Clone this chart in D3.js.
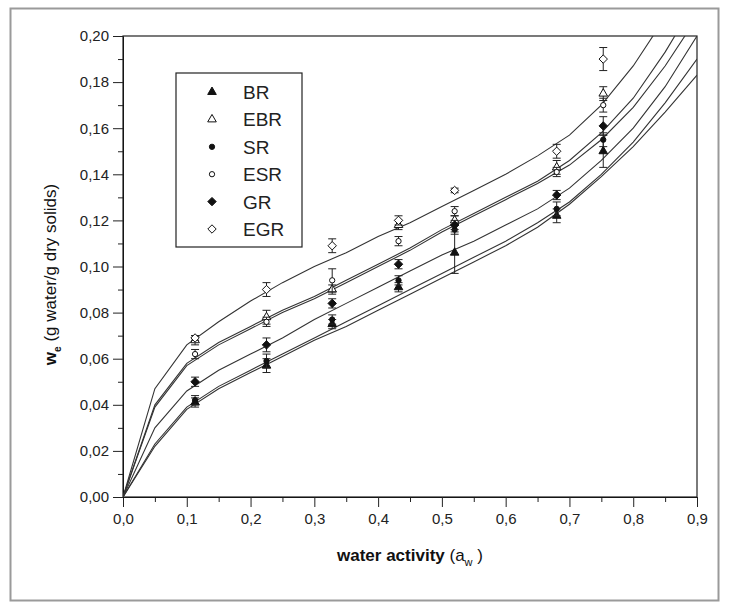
<!DOCTYPE html>
<html>
<head>
<meta charset="utf-8">
<script src="https://cdn.jsdelivr.net/npm/d3@7"></script>
<style>
  body { margin: 0; background: #fff; }
  svg { display: block; font-family: "Liberation Sans", Arial, sans-serif; }
</style>
</head>
<body>
<div id="chart"></div>
<script>
// sorption isotherms - measured points with error bars + fitted curves

// water activities of the salt solutions
var aw = [0.113, 0.225, 0.328, 0.432, 0.52, 0.68, 0.753];

// measured moisture (g water / g dry solids) and error
var br = [0.041, 0.057, 0.075, 0.091, 0.106, 0.122, 0.150];
var brErr = [0.002, 0.003, 0.002, 0.002, 0.009, 0.003, 0.007];
var ebr = [0.068, 0.078, 0.090, 0.118, 0.120, 0.143, 0.175];
var ebrErr = [0.002, 0.003, 0.002, 0.002, 0.002, 0.003, 0.003];
var sr = [0.042, 0.059, 0.077, 0.094, 0.116, 0.125, 0.155];
var srErr = [0.002, 0.003, 0.002, 0.002, 0.002, 0.003, 0.003];
var esr = [0.062, 0.076, 0.094, 0.111, 0.124, 0.141, 0.170];
var esrErr = [0.002, 0.002, 0.005, 0.002, 0.002, 0.002, 0.003];
var gr = [0.050, 0.066, 0.084, 0.101, 0.118, 0.131, 0.161];
var grErr = [0.002, 0.003, 0.002, 0.002, 0.002, 0.002, 0.004];
var egr = [0.069, 0.090, 0.109, 0.120, 0.133, 0.150, 0.190];
var egrErr = [0.001, 0.003, 0.003, 0.002, 0.001, 0.003, 0.005];

// fitted curves
var fitAw = [0, 0.05, 0.1, 0.15, 0.2, 0.25, 0.3, 0.35, 0.4, 0.45, 0.5, 0.55, 0.6, 0.65, 0.7, 0.75, 0.8, 0.85, 0.9];
var fitEGR = [0, 0.047, 0.066, 0.076, 0.085, 0.093, 0.100, 0.106, 0.113, 0.119, 0.126, 0.133, 0.140, 0.148, 0.157, 0.170, 0.187, 0.208, 0.232];
var fitEBR = [0, 0.040, 0.058, 0.067, 0.074, 0.081, 0.087, 0.094, 0.101, 0.108, 0.116, 0.123, 0.130, 0.137, 0.146, 0.158, 0.173, 0.193, 0.216];
var fitESR = [0, 0.039, 0.057, 0.066, 0.073, 0.080, 0.086, 0.093, 0.100, 0.107, 0.115, 0.122, 0.129, 0.136, 0.144, 0.155, 0.169, 0.187, 0.208];
var fitGR = [0, 0.030, 0.046, 0.055, 0.062, 0.069, 0.077, 0.084, 0.091, 0.098, 0.105, 0.111, 0.118, 0.125, 0.134, 0.146, 0.160, 0.178, 0.200];
var fitSR = [0, 0.023, 0.039, 0.048, 0.055, 0.062, 0.069, 0.076, 0.083, 0.090, 0.097, 0.104, 0.111, 0.119, 0.128, 0.140, 0.154, 0.171, 0.190];
var fitBR = [0, 0.022, 0.038, 0.047, 0.054, 0.061, 0.068, 0.074, 0.081, 0.088, 0.095, 0.102, 0.109, 0.117, 0.127, 0.139, 0.152, 0.167, 0.183];

var names = ["BR", "EBR", "SR", "ESR", "GR", "EGR"];
var values = [br, ebr, sr, esr, gr, egr];
var errs = [brErr, ebrErr, srErr, esrErr, grErr, egrErr];
var fits = [fitBR, fitEBR, fitSR, fitESR, fitGR, fitEGR];
var shapes = ["triangle", "triangle", "circle", "circle", "diamond", "diamond"];
var filled = [true, false, true, false, true, false];

var xTicks = [0, 0.1, 0.2, 0.3, 0.4, 0.5, 0.6, 0.7, 0.8, 0.9];
var yTicks = [0, 0.02, 0.04, 0.06, 0.08, 0.10, 0.12, 0.14, 0.16, 0.18, 0.20];

var W = 729, H = 603;
var margin = {top: 36, right: 32, bottom: 106, left: 123};
var width = W - margin.left - margin.right,
    height = H - margin.top - margin.bottom;

var svg = d3.select("#chart").append("svg")
    .attr("width", W)
    .attr("height", H);

// outer grey frame
svg.append("rect")
    .attr("x", 10.5).attr("y", 8.5)
    .attr("width", 708).attr("height", 592)
    .attr("fill", "none")
    .attr("stroke", "#9a9a9a")
    .attr("stroke-width", 2);

var g = svg.append("g")
    .attr("transform", "translate(" + margin.left + "," + margin.top + ")");

var x = d3.scaleLinear().domain([0, 0.9]).range([0, width]);
var y = d3.scaleLinear().domain([0, 0.2]).range([height, 0]);

var comma = function(d) { return d3.format(".1f")(d).replace(".", ","); };
var comma2 = function(d) { return d3.format(".2f")(d).replace(".", ","); };

// marker path by shape name (diamond = square turned 45deg)
function marker(s) {
  if (s == "triangle") return d3.symbol().type(d3.symbolTriangle).size(32)();
  if (s == "circle") return d3.symbol().type(d3.symbolCircle).size(22)();
  return "M0,-4.2L4.2,0L0,4.2L-4.2,0Z";
}

g.append("clipPath").attr("id", "clip")
  .append("rect").attr("width", width).attr("height", height);

// minor ticks
g.append("g")
    .attr("transform", "translate(0," + height + ")")
    .call(d3.axisBottom(x).tickValues(d3.range(0.05, 0.9, 0.1)).tickSize(5).tickFormat(""))
    .call(s => s.select(".domain").remove());
g.append("g")
    .call(d3.axisLeft(y).tickValues(d3.range(0.01, 0.2, 0.02)).tickSize(5).tickFormat(""))
    .call(s => s.select(".domain").remove());

// major axes
g.append("g")
    .attr("transform", "translate(0," + height + ")")
    .call(d3.axisBottom(x).tickValues(xTicks).tickSize(10).tickPadding(6).tickFormat(comma));
g.append("g")
    .call(d3.axisLeft(y).tickValues(yTicks).tickSize(10).tickPadding(4).tickFormat(comma2));

g.selectAll(".tick text")
    .attr("font-size", 15)
    .attr("font-family", "Liberation Sans, Arial, sans-serif")
    .attr("fill", "#222");
g.selectAll(".tick line").attr("stroke", "#222");

// top and right border
g.append("rect")
    .attr("width", width).attr("height", height)
    .attr("fill", "none").attr("stroke", "#222").attr("stroke-width", 1.2);

// fitted lines
var line = d3.line()
    .x(function(d, i) { return x(fitAw[i]); })
    .y(function(d) { return y(d); });

g.append("g").attr("clip-path", "url(#clip)")
  .selectAll("path")
  .data(fits)
  .enter().append("path")
    .attr("d", line)
    .attr("fill", "none")
    .attr("stroke", "#333")
    .attr("stroke-width", 1.1);

// error bars + markers
values.forEach(function(vals, k) {
  var grp = g.append("g");
  vals.forEach(function(v, i) {
    var cx = x(aw[i]);
    var top = y(v + errs[k][i]), bot = y(v - errs[k][i]);
    grp.append("line").attr("x1", cx).attr("x2", cx).attr("y1", top).attr("y2", bot)
        .attr("stroke", "#222").attr("stroke-width", 1);
    [top, bot].forEach(function(yy) {
      grp.append("line").attr("x1", cx - 4).attr("x2", cx + 4).attr("y1", yy).attr("y2", yy)
          .attr("stroke", "#222").attr("stroke-width", 1);
    });
    grp.append("path")
        .attr("d", marker(shapes[k]))
        .attr("transform", "translate(" + cx + "," + y(v) + ")")
        .attr("fill", filled[k] ? "#111" : "#fff")
        .attr("stroke", "#111")
        .attr("stroke-width", 1);
  });
});

// legend
var lg = svg.append("g").attr("transform", "translate(176,73)");
lg.append("rect").attr("width", 126).attr("height", 174)
    .attr("fill", "#fff").attr("stroke", "#222").attr("stroke-width", 1.2);
names.forEach(function(n, k) {
  var yy = 19 + k * 27.4;
  lg.append("path")
      .attr("d", marker(shapes[k]))
      .attr("transform", "translate(36," + yy + ")")
      .attr("fill", filled[k] ? "#111" : "#fff")
      .attr("stroke", "#111");
  lg.append("text").attr("x", 67).attr("y", yy + 7)
      .attr("font-size", 19).attr("fill", "#222")
      .text(n);
});

// axis titles
var xt = svg.append("text")
    .attr("x", margin.left + width / 2).attr("y", 561)
    .attr("text-anchor", "middle")
    .attr("font-size", 17).attr("fill", "#111");
xt.append("tspan").attr("font-weight", "bold").text("water activity ");
xt.append("tspan").text("(a");
xt.append("tspan").attr("font-size", 11).attr("dy", 5).text("w");
xt.append("tspan").attr("dy", -5).text(" )");

var yt = svg.append("text")
    .attr("transform", "translate(56," + (margin.top + height / 2 + 8) + ") rotate(-90)")
    .attr("text-anchor", "middle")
    .attr("font-size", 17).attr("fill", "#111");
yt.append("tspan").attr("font-weight", "bold").text("w");
yt.append("tspan").attr("font-size", 10).attr("dy", 5).attr("font-weight", "bold").text("e");
yt.append("tspan").attr("dy", -5).text(" (g water/g dry solids)");
</script>
</body>
</html>
